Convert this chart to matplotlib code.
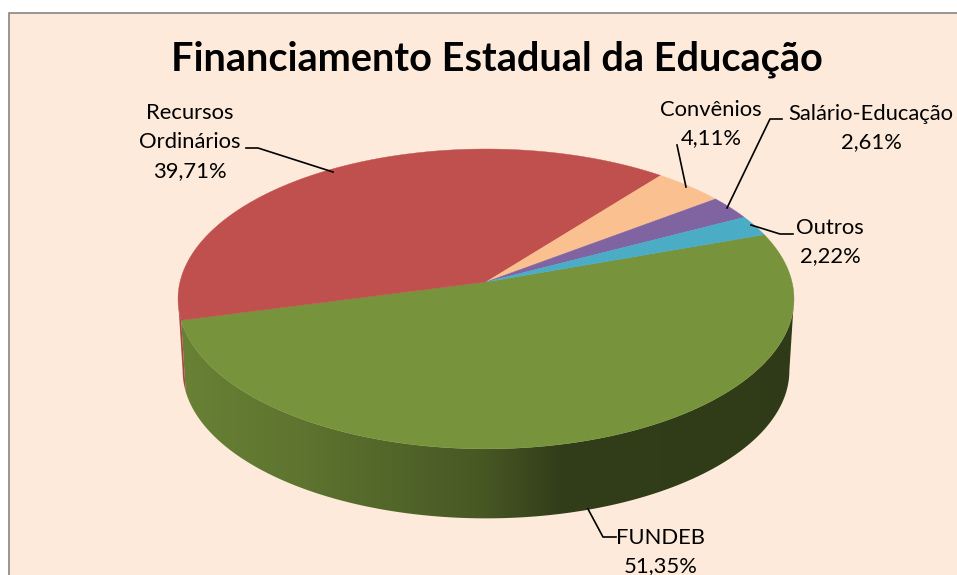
import matplotlib
matplotlib.use("Agg")
import matplotlib.pyplot as plt
import numpy as np
from matplotlib.colors import to_rgb
from matplotlib.patches import Polygon, Rectangle

plt.rcParams['font.family'] = ['Lato', 'DejaVu Sans']

names = ["FUNDEB", "Recursos\nOrdinários", "Convênios", "Salário-Educação", "Outros"]
values = [51.35, 39.71, 4.11, 2.61, 2.22]
colors = ["#77933C", "#C0504D", "#FAC090", "#8064A2", "#4BACC6"]
title = "Financiamento Estadual da Educação"

# label centre and leader line for each slice, in pixels
label_pos = [(661, 552), (190, 142), (711, 124), (871, 128), (830, 242)]
leaders = [
    [(616, 537), (603, 537), (588, 509)],
    [(246, 148), (258, 148), (333, 172)],
    [(677, 145), (686, 187)],
    [(782, 119), (770, 119), (727, 208)],
    [(793, 234), (780, 234), (751, 225)],
]

# side wall shading, left to right
shade_x = [180, 300, 480, 560, 800]
shade_f = [0.88, 0.79, 0.60, 0.42, 0.40]

# projected disc
cx, cy = 486, 282
rx, ry = 306, 148
k = 0.113
start = 19.4
depth = 72
bottom_scale = 0.985


def project(t, scale=1.0, shift=0):
    w = 1 + k * np.sin(t)
    return cx + scale * rx * np.cos(t) / w, cy + shift - scale * ry * np.sin(t) / w


fig = plt.figure(figsize=(9.57, 5.75), dpi=100, facecolor="white")
ax = fig.add_axes([0, 0, 1, 1])

ax.add_patch(Rectangle((8.5, 12.5), 960, 580, facecolor="#FDEADA", edgecolor="#868686", linewidth=1.2))

edges = start - np.cumsum([0] + values) * 3.6

# wall first: a horizontal gradient clipped to the wall outline of each slice,
# only the part of the rim below the widest point of the disc is visible
grad_x = np.arange(170, 805)
grad = np.interp(grad_x, shade_x, shade_f)
for i, color in enumerate(colors):
    ts = np.radians(np.linspace(edges[i], edges[i + 1], 1500))
    ts = ts[np.sin(ts) <= -k]
    if len(ts) == 0:
        continue
    xa, ya = project(ts)
    xb, yb = project(ts, bottom_scale, depth)
    outline = list(zip(xa, ya)) + list(zip(xb[::-1], yb[::-1]))
    img = grad[None, :, None] * np.array(to_rgb(color))[None, None, :]
    im = ax.imshow(img, extent=(170, 805, 530, 150), aspect="auto", interpolation="bilinear", zorder=1)
    im.set_clip_path(Polygon(outline, closed=True, transform=ax.transData))

for i, color in enumerate(colors):
    ts = np.radians(np.linspace(edges[i], edges[i + 1], 300))
    xa, ya = project(ts)
    pts = [(cx, cy)] + list(zip(xa, ya))
    ax.add_patch(Polygon(pts, closed=True, facecolor=color, edgecolor=color, linewidth=0.3, zorder=2))

for line in leaders:
    xs, ys = zip(*line)
    ax.plot(xs, ys, color="black", linewidth=1.2, solid_joinstyle="round", zorder=3)

for name, v, pos in zip(names, values, label_pos):
    txt = name + "\n" + f"{v:.2f}".replace(".", ",") + "%"
    ax.text(pos[0], pos[1], txt, ha="center", va="center", fontsize=15.8, color="black",
            linespacing=1.55, clip_on=True, zorder=4)

ax.text(497, 59.5, title, ha="center", va="center", fontsize=28.5, fontweight="bold", color="black", zorder=4)

ax.set_xlim(0, 957)
ax.set_ylim(575, 0)
ax.axis("off")

fig.savefig("out.png", dpi=100)
